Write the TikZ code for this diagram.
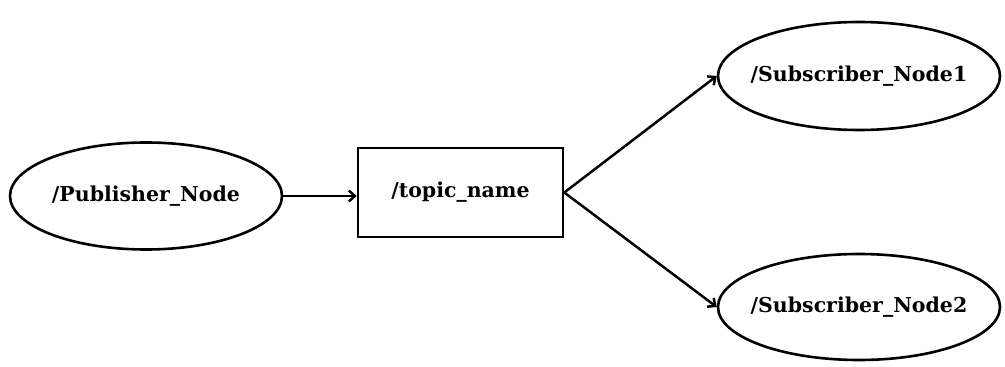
\documentclass[tikz,border=0pt]{standalone}
\usepackage{fontspec}
\setmainfont{DejaVu Serif}
\usetikzlibrary{shapes.geometric,arrows.meta}
\begin{document}
\begin{tikzpicture}[x=1pt,y=1pt,
  lbl/.style={font=\fontsize{20.5}{22}\selectfont\bfseries},
  ell/.style={draw,line width=2.6pt,ellipse,inner ysep=0pt,inner xsep=-40pt,lbl},
  box/.style={draw,line width=2.6pt,rectangle,inner sep=0pt,lbl},
  conn/.style={line width=2.5pt,-{Straight Barb[length=6pt,width=11pt,line width=2.5pt]}}]
\useasboundingbox (0,0) rectangle (1005,367);
\node[ell,minimum width=272pt,minimum height=107pt] (pub) at (146,171) {/Publisher\_Node};
\node[box,minimum width=205pt,minimum height=89pt] (topic) at (460.5,174.5) {/topic\_name};
\node[ell,minimum width=282pt,minimum height=108pt] (s1) at (859,291) {/Subscriber\_Node1};
\node[ell,minimum width=282pt,minimum height=106pt] (s2) at (859,60) {/Subscriber\_Node2};
\draw[conn] (pub.east) -- (topic.west |- pub.east);
\draw[conn] (topic.east) -- (s1.west);
\draw[conn] (topic.east) -- (s2.west);
\end{tikzpicture}
\end{document}
